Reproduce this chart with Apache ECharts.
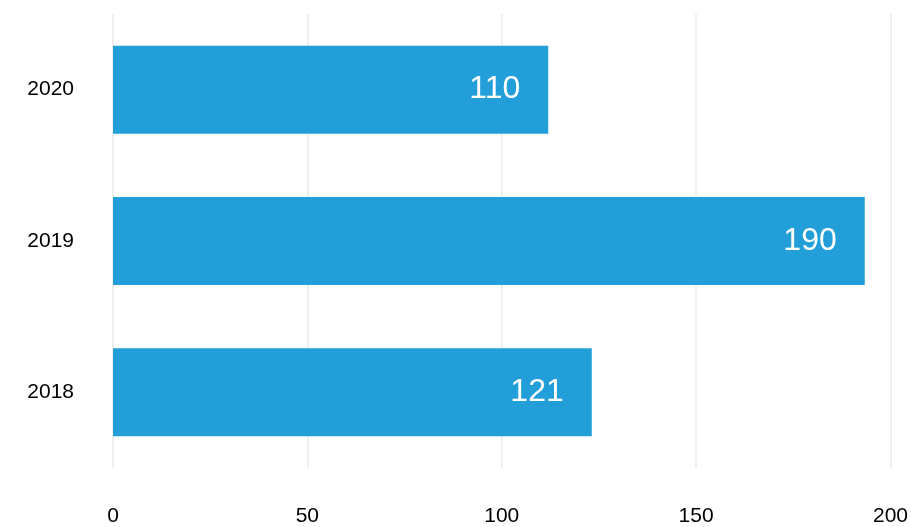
<!DOCTYPE html>
<html>
<head>
<meta charset="utf-8">
<script src="https://cdn.jsdelivr.net/npm/echarts@6/dist/echarts.min.js"></script>
<style>html,body{margin:0;padding:0;background:#fff}#c{width:911px;height:527px}</style>
</head>
<body>
<div id="c"></div>
<script>
var categories = ['2018', '2019', '2020'];
var values = [121, 190, 110];
var xTicks = [0, 50, 100, 150, 200];

var chart = echarts.init(document.getElementById('c'), null, {renderer: 'canvas'});
var font = '"Liberation Sans", Helvetica, Arial, sans-serif';
chart.setOption({
  animation: false,
  backgroundColor: '#ffffff',
  grid: {left: 113, right: 17, top: 14, bottom: 57, containLabel: false},
  xAxis: [{
    type: 'value',
    min: xTicks[0],
    max: xTicks[xTicks.length - 1],
    interval: 50,
    axisLine: {show: false},
    axisTick: {show: false},
    splitLine: {show: true, lineStyle: {color: '#efefef', width: 2}},
    axisLabel: {color: '#000', fontFamily: font, fontSize: 21, margin: 38}
  }, {
    type: 'value',
    min: 0,
    max: 196.5,
    show: false,
    splitLine: {show: false}
  }],
  yAxis: {
    type: 'category',
    data: categories,
    axisLine: {show: false},
    axisTick: {show: false},
    splitLine: {show: false},
    axisLabel: {color: '#000', fontFamily: font, fontSize: 21, margin: 39}
  },
  series: [{
    type: 'bar',
    xAxisIndex: 1,
    data: values,
    barWidth: 88,
    itemStyle: {color: '#229fd9'},
    label: {
      show: true,
      position: 'insideRight',
      distance: 28,
      color: '#ffffff',
      fontFamily: font,
      fontSize: 32
    }
  }]
});
</script>
</body>
</html>
